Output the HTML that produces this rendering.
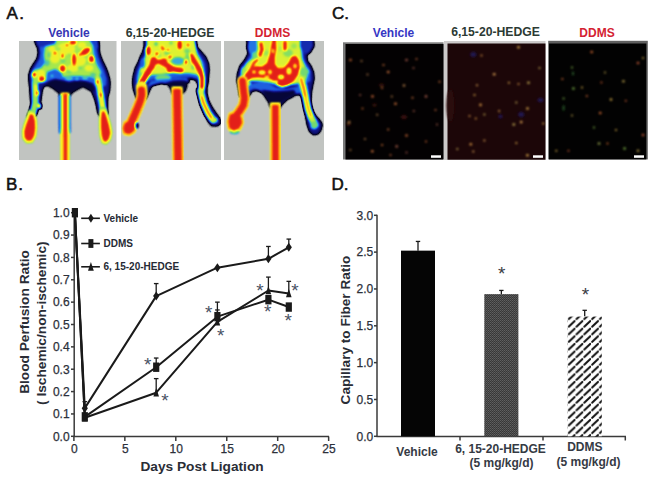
<!DOCTYPE html><html><head><meta charset="utf-8"><style>html,body{margin:0;padding:0;background:#fff;}svg{display:block;}text{font-family:"Liberation Sans", sans-serif;}</style></head><body>
<svg width="654" height="480" viewBox="0 0 654 480">
<rect width="654" height="480" fill="#fff"/>
<text x="6.4" y="19.2" font-size="17" fill="#111" stroke="#111" stroke-width="0.55" letter-spacing="1.4">A.</text>
<text x="332" y="19.4" font-size="17" fill="#111" stroke="#111" stroke-width="0.55" letter-spacing="0">C.</text>
<text x="5.9" y="190.3" font-size="17" fill="#111" stroke="#111" stroke-width="0.55" letter-spacing="0.9">B.</text>
<text x="331.5" y="190.3" font-size="17" fill="#111" stroke="#111" stroke-width="0.55" letter-spacing="0">D.</text>
<text x="69" y="36.5" font-size="12" font-weight="bold" fill="#3636b4" text-anchor="middle">Vehicle</text>
<text x="170" y="36.5" font-size="12.2" font-weight="bold" fill="#2c3a34" text-anchor="middle">6,15-20-HEDGE</text>
<text x="272.5" y="36.5" font-size="12" font-weight="bold" fill="#d42232" text-anchor="middle">DDMS</text>
<text x="393.5" y="36.5" font-size="12" font-weight="bold" fill="#3636c4" text-anchor="middle">Vehicle</text>
<text x="495.5" y="36" font-size="12.2" font-weight="bold" fill="#2c3a34" text-anchor="middle">6,15-20-HEDGE</text>
<text x="597" y="36.5" font-size="12" font-weight="bold" fill="#d42232" text-anchor="middle">DDMS</text>
<defs><filter id="jetA" x="0" y="0" width="1" height="1" color-interpolation-filters="sRGB"><feGaussianBlur stdDeviation="1.1"/><feComponentTransfer><feFuncR type="table" tableValues="0.76 0.02 0.03 0.05 0.08 0.10 0.12 0.15 0.22 0.32 0.45 0.62 0.78 0.90 0.98 0.99 0.99 0.97 0.93 0.89 0.86"/><feFuncG type="table" tableValues="0.77 0.02 0.03 0.06 0.12 0.25 0.38 0.52 0.68 0.78 0.85 0.90 0.93 0.95 0.93 0.78 0.60 0.40 0.20 0.12 0.08"/><feFuncB type="table" tableValues="0.76 0.12 0.30 0.45 0.62 0.78 0.88 0.90 0.85 0.65 0.45 0.32 0.24 0.18 0.14 0.10 0.07 0.07 0.09 0.10 0.10"/></feComponentTransfer></filter><filter id="jetL" x="-0.1" y="-0.1" width="1.2" height="1.2" color-interpolation-filters="sRGB"><feGaussianBlur stdDeviation="1.0"/><feComponentTransfer><feFuncR type="table" tableValues="0.76 0.02 0.03 0.05 0.08 0.10 0.12 0.15 0.22 0.32 0.45 0.62 0.78 0.90 0.98 0.99 0.99 0.97 0.93 0.89 0.86"/><feFuncG type="table" tableValues="0.77 0.02 0.03 0.06 0.12 0.25 0.38 0.52 0.68 0.78 0.85 0.90 0.93 0.95 0.93 0.78 0.60 0.40 0.20 0.12 0.08"/><feFuncB type="table" tableValues="0.76 0.12 0.30 0.45 0.62 0.78 0.88 0.90 0.85 0.65 0.45 0.32 0.24 0.18 0.14 0.10 0.07 0.07 0.09 0.10 0.10"/><feFuncA type="table" tableValues="0 0.6 1 1"/></feComponentTransfer></filter></defs>
<clipPath id="cpA0"><rect x="0" y="0" width="97.5" height="119"/></clipPath>
<g transform="translate(19,41)" clip-path="url(#cpA0)"><g filter="url(#jetA)"><rect x="-3" y="-3" width="103.5" height="125" fill="#000"/><path d="M16.2,-3.0 L16.2,0.9 L18.8,6.5 L19.5,11.5 L18.3,17.8 L15.0,22.8 L11.9,27.8 L10.0,34.0 L10.2,40.0 L11.0,47.0 L11.5,55.0 L12.2,63.4 L10.0,71.0 L8.0,76.0 L15.0,76.0 L17.5,72.0 L21.0,64.0 L22.0,56.0 L23.0,49.0 L25.0,44.5 L30.0,45.0 L35.0,48.0 L40.5,51.0 L40.5,55.0 L51.2,55.0 L51.2,52.0 L56.0,50.0 L60.0,46.5 L64.2,45.5 L68.0,46.5 L73.0,50.5 L76.0,58.0 L78.0,66.0 L79.0,72.0 L81.0,75.0 L88.5,74.0 L88.3,70.0 L88.2,62.0 L88.5,56.0 L90.2,50.0 L90.8,42.5 L90.2,37.5 L88.3,31.0 L85.8,25.0 L83.3,20.0 L80.8,13.8 L79.6,6.2 L78.9,0.0 L78.9,-3.0Z" fill="rgb(43,43,43)"/><path d="M19.0,-3.0 L20.5,6.0 L21.5,12.0 L20.5,18.0 L17.0,24.0 L13.5,29.0 L12.5,35.0 L13.0,42.0 L22.0,42.0 L30.0,41.0 L40.0,45.0 L50.0,46.0 L58.0,43.0 L64.0,42.0 L70.0,43.0 L78.0,46.0 L87.0,45.0 L87.5,38.0 L85.0,30.0 L82.0,23.0 L79.0,16.0 L77.5,8.0 L77.0,-3.0Z" fill="rgb(76,76,76)"/><path d="M37.0,-3.0 L30.0,3.0 L26.0,6.0 L25.0,14.0 L26.0,22.0 L22.0,27.0 L15.0,29.0 L12.5,34.0 L14.0,40.0 L20.0,42.0 L27.0,39.0 L28.0,31.0 L36.0,28.0 L42.0,31.0 L44.0,36.0 L52.0,35.0 L60.0,35.0 L68.0,35.0 L75.0,37.0 L80.0,36.0 L82.0,31.0 L78.0,24.0 L75.0,16.0 L74.0,8.0 L73.0,-3.0Z" fill="rgb(143,143,143)"/><ellipse cx="47" cy="8" rx="9" ry="6" fill="rgb(171,171,171)"/><ellipse cx="60" cy="20" rx="7" ry="5" fill="rgb(171,171,171)"/><ellipse cx="36" cy="16" rx="5" ry="6" fill="rgb(171,171,171)"/><ellipse cx="54" cy="27" rx="6" ry="3.5" fill="rgb(171,171,171)"/><ellipse cx="22" cy="33" rx="4" ry="4" fill="rgb(171,171,171)"/><ellipse cx="33" cy="8" rx="3" ry="3" fill="rgb(171,171,171)"/><ellipse cx="70" cy="27" rx="4" ry="3" fill="rgb(171,171,171)"/><ellipse cx="63" cy="4" rx="4" ry="3" fill="rgb(171,171,171)"/><ellipse cx="33" cy="33.5" rx="4" ry="3" fill="rgb(76,76,76)"/><ellipse cx="33" cy="35" rx="1.5" ry="1.2" fill="rgb(115,115,115)"/><ellipse cx="28" cy="22" rx="2.5" ry="3" fill="rgb(115,115,115)"/><ellipse cx="44" cy="20" rx="2.5" ry="2" fill="rgb(128,128,128)"/><ellipse cx="61" cy="27" rx="2.5" ry="1.5" fill="rgb(128,128,128)"/><ellipse cx="74" cy="34" rx="3" ry="2" fill="rgb(115,115,115)"/><ellipse cx="50" cy="31" rx="2.5" ry="1.8" fill="rgb(128,128,128)"/><ellipse cx="40" cy="8" rx="2" ry="2" fill="rgb(140,140,140)"/><ellipse cx="50" cy="14" rx="2" ry="2" fill="rgb(140,140,140)"/><ellipse cx="68" cy="22" rx="2" ry="2" fill="rgb(140,140,140)"/><ellipse cx="30" cy="14" rx="2" ry="3" fill="rgb(128,128,128)"/><ellipse cx="58" cy="10" rx="1.8" ry="1.8" fill="rgb(140,140,140)"/><path d="M16.0,-3.0 L38.0,-3.0 L36.0,3.0 L28.0,5.0 L22.0,6.0 L18.0,5.0Z" fill="rgb(56,56,56)"/><path d="M70.0,-3.0 L79.0,-3.0 L80.0,8.0 L76.0,6.0 L72.0,2.0Z" fill="rgb(64,64,64)"/><path d="M26.0,44.0 L30.0,40.0 L36.0,38.0 L44.0,39.5 L50.0,41.0 L58.0,39.5 L66.0,40.0 L74.0,42.5 L76.0,49.0 L73.0,51.0 L64.0,46.0 L56.0,50.0 L51.2,54.0 L40.5,53.0 L32.0,46.0Z" fill="rgb(20,20,20)"/><ellipse cx="50" cy="37.5" rx="4" ry="1.8" fill="rgb(115,115,115)"/><ellipse cx="66" cy="37" rx="3" ry="1.8" fill="rgb(115,115,115)"/><ellipse cx="58" cy="38" rx="2" ry="1.5" fill="rgb(115,115,115)"/><ellipse cx="54" cy="1.5" rx="3.5" ry="2.2" fill="rgb(242,242,242)"/><ellipse cx="66.5" cy="10.5" rx="5.5" ry="3.2" fill="rgb(242,242,242)" transform="rotate(-35 66.5 10.5)"/><ellipse cx="72.5" cy="18" rx="2.8" ry="3.5" fill="rgb(242,242,242)"/><ellipse cx="55" cy="18.5" rx="2.2" ry="6.5" fill="rgb(242,242,242)"/><ellipse cx="43.6" cy="27.5" rx="3" ry="3.6" fill="rgb(242,242,242)"/><ellipse cx="15.2" cy="33.5" rx="2.2" ry="2.5" fill="rgb(242,242,242)"/><ellipse cx="22.8" cy="38" rx="3" ry="2.8" fill="rgb(242,242,242)"/><ellipse cx="61" cy="13.5" rx="1.5" ry="1.5" fill="rgb(242,242,242)"/><ellipse cx="36" cy="12" rx="1.4" ry="1.8" fill="rgb(242,242,242)"/><ellipse cx="43.5" cy="15" rx="1.5" ry="2.5" fill="rgb(242,242,242)"/><ellipse cx="48" cy="4" rx="1.2" ry="1.5" fill="rgb(242,242,242)"/><path d="M16.0,42.0 L16.2,52.0 L16.3,62.0 L14.0,72.0" fill="none" stroke="rgb(140,140,140)" stroke-width="6" stroke-linecap="round" stroke-linejoin="round"/><path d="M16.8,45.0 L17.2,54.0" fill="none" stroke="rgb(184,184,184)" stroke-width="2.4" stroke-linecap="round" stroke-linejoin="round"/><ellipse cx="18.4" cy="52" rx="1.4" ry="2.5" fill="rgb(237,237,237)"/><ellipse cx="20.2" cy="65" rx="1.6" ry="2.2" fill="rgb(209,209,209)"/><path d="M79.0,38.0 L81.0,50.0 L83.0,62.0 L84.5,72.0" fill="none" stroke="rgb(153,153,153)" stroke-width="6" stroke-linecap="round" stroke-linejoin="round"/><path d="M80.5,44.0 L82.0,56.0 L83.5,66.0" fill="none" stroke="rgb(184,184,184)" stroke-width="2.4" stroke-linecap="round" stroke-linejoin="round"/><ellipse cx="78.5" cy="41" rx="1.6" ry="2.4" fill="rgb(235,235,235)"/><ellipse cx="81.8" cy="54" rx="1.6" ry="2.4" fill="rgb(235,235,235)"/></g><g filter="url(#jetL)"><path d="M10.0,69.0 L15.0,70.5 L17.6,78.0 L18.0,87.0 L17.0,95.5 L13.5,101.8 L7.5,102.3 L3.6,98.0 L3.2,90.0 L5.2,82.0 L8.0,75.0Z" fill="rgb(128,128,128)"/><path d="M10.5,70.5 L15.0,72.0 L17.0,78.5 L17.4,87.0 L16.4,95.3 L13.2,101.0 L7.8,101.4 L4.4,97.5 L4.0,90.0 L6.0,82.5 L8.6,76.0Z" fill="rgb(173,173,173)"/><path d="M11.0,73.0 L14.2,74.0 L15.8,79.5 L16.2,87.0 L15.2,94.5 L12.5,99.5 L8.2,99.8 L5.6,96.6 L5.3,90.0 L7.0,84.0 L9.3,78.0Z" fill="rgb(242,242,242)"/><path d="M81.5,66.5 L86.5,67.0 L89.0,74.0 L91.8,83.0 L93.2,91.5 L91.7,99.0 L87.5,103.5 L83.0,102.3 L80.8,95.5 L80.2,86.0 L80.3,76.0Z" fill="rgb(128,128,128)"/><path d="M82.0,68.0 L86.0,68.5 L88.5,75.0 L91.0,83.5 L92.5,91.8 L91.0,98.6 L87.3,102.6 L83.5,101.4 L81.5,95.0 L80.9,86.0 L81.0,77.0Z" fill="rgb(173,173,173)"/><path d="M82.8,70.5 L85.5,70.5 L87.6,76.5 L90.0,84.5 L91.3,92.0 L89.8,97.8 L87.0,101.0 L84.2,99.8 L82.7,94.3 L82.0,86.0 L82.0,78.0Z" fill="rgb(242,242,242)"/><path d="M45.6,54.0 L45.6,84.0 L45.8,92.0" fill="none" stroke="rgb(76,76,76)" stroke-width="11.4" stroke-linecap="butt" stroke-linejoin="round"/><path d="M46.0,88.0 L46.0,125.0" fill="none" stroke="rgb(128,128,128)" stroke-width="8.6" stroke-linecap="butt" stroke-linejoin="round"/><path d="M46.0,52.0 L46.0,125.0" fill="none" stroke="rgb(184,184,184)" stroke-width="7.6" stroke-linecap="butt" stroke-linejoin="round"/><path d="M46.3,53.0 L46.4,125.0" fill="none" stroke="rgb(240,240,240)" stroke-width="3.4" stroke-linecap="butt" stroke-linejoin="round"/></g></g>
<clipPath id="cpA1"><rect x="0" y="0" width="100" height="119"/></clipPath>
<g transform="translate(121,41)" clip-path="url(#cpA1)"><g filter="url(#jetA)"><rect x="-3" y="-3" width="106" height="125" fill="#000"/><path d="M23.5,-3.0 L23.5,5.0 L21.9,11.2 L20.0,15.0 L17.5,21.2 L14.4,27.5 L12.5,35.0 L11.9,41.2 L12.5,47.5 L14.4,53.8 L16.0,58.0 L22.0,60.0 L24.5,58.0 L26.2,55.0 L28.0,50.0 L30.5,45.0 L35.0,42.0 L41.2,41.0 L46.2,42.5 L50.0,46.0 L51.5,52.0 L60.5,52.0 L64.0,50.5 L65.5,46.0 L66.5,38.5 L70.0,37.5 L75.0,39.0 L77.5,44.0 L78.0,50.0 L79.0,60.0 L81.0,67.0 L84.0,74.0 L87.5,80.5 L91.0,84.5 L96.0,85.0 L99.5,82.0 L98.5,77.5 L94.5,72.0 L90.5,66.0 L87.5,60.0 L85.6,52.5 L85.6,46.2 L86.6,42.5 L87.2,36.2 L87.8,28.8 L87.2,22.5 L84.6,16.2 L80.3,11.2 L75.9,6.2 L75.0,0.0 L75.0,-3.0Z" fill="rgb(43,43,43)"/><path d="M25.5,-3.0 L25.5,8.0 L23.5,15.0 L19.5,22.0 L16.5,30.0 L15.0,38.0 L15.5,46.0 L20.0,44.0 L27.0,40.0 L33.0,38.0 L42.0,37.0 L52.0,37.0 L62.0,36.0 L70.0,36.0 L78.0,38.0 L83.5,40.0 L84.5,30.0 L83.5,22.0 L79.5,15.0 L75.5,9.0 L73.5,-3.0Z" fill="rgb(76,76,76)"/><path d="M26.0,-3.0 L26.0,10.0 L24.0,17.0 L21.0,24.0 L18.0,32.0 L17.0,40.0 L22.0,38.0 L30.0,34.0 L40.0,33.0 L50.0,32.0 L60.0,32.0 L68.0,32.0 L74.0,33.0 L82.0,36.0 L82.0,28.0 L80.0,20.0 L76.0,13.0 L73.0,-3.0Z" fill="rgb(163,163,163)"/><ellipse cx="57" cy="20" rx="7" ry="4" fill="rgb(102,102,102)"/><ellipse cx="42" cy="37" rx="8" ry="3.5" fill="rgb(128,128,128)"/><ellipse cx="37" cy="14" rx="2.5" ry="2" fill="rgb(115,115,115)"/><ellipse cx="46" cy="12" rx="3" ry="2" fill="rgb(128,128,128)"/><ellipse cx="66" cy="10" rx="3" ry="2.5" fill="rgb(128,128,128)"/><ellipse cx="30" cy="30" rx="2.5" ry="2.5" fill="rgb(128,128,128)"/><ellipse cx="20" cy="36" rx="2.5" ry="5" fill="rgb(128,128,128)"/><ellipse cx="72" cy="26" rx="2" ry="3" fill="rgb(128,128,128)"/><ellipse cx="50" cy="2" rx="2" ry="2" fill="rgb(128,128,128)"/><ellipse cx="35" cy="3" rx="2" ry="2" fill="rgb(115,115,115)"/><path d="M26.0,46.0 L30.0,40.0 L38.0,38.5 L48.0,38.0 L58.0,37.0 L66.0,37.0 L68.0,41.0 L58.0,43.0 L48.0,43.0 L40.0,42.0 L32.0,44.0Z" fill="rgb(76,76,76)"/><path d="M45.0,42.0 L52.0,40.0 L60.0,39.5 L66.0,40.0 L66.0,46.0 L64.0,50.0 L61.0,53.0 L51.0,53.0 L49.0,47.0Z" fill="rgb(20,20,20)"/><ellipse cx="27.3" cy="9.8" rx="2.6" ry="4.5" fill="rgb(245,245,245)"/><ellipse cx="58.7" cy="4" rx="2.4" ry="4.5" fill="rgb(245,245,245)"/><ellipse cx="41" cy="6" rx="1.5" ry="1.5" fill="rgb(230,230,230)"/><ellipse cx="67" cy="4" rx="1.5" ry="2" fill="rgb(230,230,230)"/><path d="M20.5,42.0 L24.0,36.0 L27.5,30.6 L31.0,25.0 L32.5,19.0" fill="none" stroke="rgb(245,245,245)" stroke-width="6" stroke-linecap="round" stroke-linejoin="round"/><path d="M32.0,23.0 L37.5,20.5" fill="none" stroke="rgb(242,242,242)" stroke-width="3.8" stroke-linecap="round" stroke-linejoin="round"/><path d="M40.0,21.0 L44.0,23.0 L50.5,27.5 L56.0,29.0 L60.0,29.5" fill="none" stroke="rgb(242,242,242)" stroke-width="5.4" stroke-linecap="round" stroke-linejoin="round"/><path d="M70.3,15.3 L75.0,23.0 L79.5,30.6 L81.0,36.7 L81.0,44.3 L79.8,52.0" fill="none" stroke="rgb(242,242,242)" stroke-width="5.2" stroke-linecap="round" stroke-linejoin="round"/><ellipse cx="49" cy="16" rx="2" ry="2" fill="rgb(230,230,230)"/><ellipse cx="33" cy="20" rx="3.2" ry="3.8" fill="rgb(242,242,242)"/><ellipse cx="43" cy="20" rx="3.2" ry="2.8" fill="rgb(242,242,242)"/><ellipse cx="48.8" cy="28" rx="3.2" ry="3.8" fill="rgb(242,242,242)"/><ellipse cx="58.8" cy="29.3" rx="3.2" ry="2" fill="rgb(242,242,242)"/><ellipse cx="42" cy="8" rx="2" ry="1.5" fill="rgb(235,235,235)"/><ellipse cx="66.5" cy="18" rx="3" ry="6" fill="rgb(128,128,128)"/><ellipse cx="21.5" cy="22" rx="2.5" ry="5" fill="rgb(76,76,76)"/><ellipse cx="36" cy="13" rx="2" ry="2" fill="rgb(235,235,235)"/><ellipse cx="65" cy="21" rx="2" ry="2.5" fill="rgb(235,235,235)"/><ellipse cx="47" cy="9" rx="1.6" ry="1.6" fill="rgb(230,230,230)"/><path d="M79.5,50.0 L82.5,62.0 L87.0,72.0 L92.0,79.0" fill="none" stroke="rgb(163,163,163)" stroke-width="6" stroke-linecap="round" stroke-linejoin="round"/><path d="M80.5,56.0 L83.0,63.0 L86.5,70.0 L90.5,77.0" fill="none" stroke="rgb(217,217,217)" stroke-width="2.6" stroke-linecap="round" stroke-linejoin="round"/><ellipse cx="93.5" cy="79" rx="3" ry="2.5" fill="rgb(158,158,158)"/><path d="M86.0,80.0 L92.0,84.0 L97.0,84.5 L99.5,82.0 L96.0,85.5 L90.0,85.5Z" fill="rgb(13,13,13)"/></g><g filter="url(#jetL)"><path d="M20.5,46.0 L21.0,54.0 L19.5,60.0 L15.5,70.0 L11.5,79.0 L8.0,87.0" fill="none" stroke="rgb(178,178,178)" stroke-width="10" stroke-linecap="round" stroke-linejoin="round"/><path d="M3.0,80.5 L11.5,77.5 L16.5,84.0 L14.0,91.5 L8.5,94.8 L2.5,93.5 L1.5,87.0Z" fill="rgb(178,178,178)"/><path d="M20.5,49.0 L20.8,54.0 L19.3,60.0 L15.3,70.0 L11.3,79.0 L8.0,87.0" fill="none" stroke="rgb(242,242,242)" stroke-width="7" stroke-linecap="round" stroke-linejoin="round"/><path d="M4.0,82.0 L11.0,79.0 L15.0,84.0 L13.0,90.0 L8.5,93.0 L3.5,92.0 L2.5,87.0Z" fill="rgb(242,242,242)"/><ellipse cx="15.8" cy="84.5" rx="1.6" ry="2.8" fill="rgb(20,20,20)"/><path d="M56.0,46.0 L57.2,125.0" fill="none" stroke="rgb(178,178,178)" stroke-width="10.2" stroke-linecap="butt" stroke-linejoin="round"/><path d="M56.0,48.0 L57.2,125.0" fill="none" stroke="rgb(242,242,242)" stroke-width="7.4" stroke-linecap="butt" stroke-linejoin="round"/></g></g>
<clipPath id="cpA2"><rect x="0" y="0" width="100" height="119"/></clipPath>
<g transform="translate(224,41)" clip-path="url(#cpA2)"><g filter="url(#jetA)"><rect x="-3" y="-3" width="106" height="125" fill="#000"/><path d="M23.1,-3.0 L23.1,0.0 L25.0,6.2 L24.4,12.5 L21.2,18.8 L16.2,25.0 L13.8,32.5 L13.1,40.0 L14.4,46.2 L15.2,52.0 L16.0,56.0 L24.0,56.0 L26.0,53.0 L28.0,50.0 L33.0,49.0 L38.0,51.5 L41.0,54.5 L43.5,58.5 L45.5,64.0 L46.5,66.0 L56.5,66.0 L58.0,63.0 L63.0,58.5 L68.0,56.0 L72.0,53.5 L76.0,53.5 L79.0,57.0 L80.0,62.0 L81.0,70.0 L82.0,76.0 L83.5,84.0 L85.5,90.0 L89.3,93.5 L93.5,93.0 L96.5,89.5 L98.0,83.5 L96.0,80.0 L91.5,75.0 L88.5,71.0 L87.0,65.0 L86.3,60.0 L86.8,56.0 L87.3,50.0 L88.5,43.8 L89.8,37.5 L89.2,31.2 L86.6,25.0 L83.0,20.0 L82.5,14.0 L86.0,11.0 L89.5,5.0 L88.6,0.0 L88.6,-3.0Z" fill="rgb(43,43,43)"/><path d="M25.0,-3.0 L27.0,6.0 L27.0,13.0 L23.0,20.0 L18.0,27.0 L16.0,35.0 L17.0,44.0 L22.0,42.0 L30.0,38.0 L40.0,40.0 L50.0,43.0 L60.0,44.0 L70.0,44.0 L80.0,44.0 L86.5,40.0 L86.5,30.0 L83.0,24.0 L80.0,18.0 L79.0,12.0 L80.0,6.0 L80.0,-3.0Z" fill="rgb(76,76,76)"/><path d="M33.0,-3.0 L33.0,8.0 L30.0,16.0 L23.0,22.0 L18.0,30.0 L17.0,38.0 L24.0,40.0 L34.0,40.0 L44.0,41.0 L54.0,44.0 L64.0,44.0 L74.0,42.0 L82.0,38.0 L85.0,30.0 L81.0,25.0 L78.0,18.0 L77.0,8.0 L77.0,-3.0Z" fill="rgb(161,161,161)"/><ellipse cx="28.5" cy="6" rx="5" ry="8" fill="rgb(84,84,84)"/><ellipse cx="31" cy="15" rx="3" ry="4" fill="rgb(128,128,128)"/><ellipse cx="64" cy="12" rx="5" ry="4" fill="rgb(133,133,133)"/><ellipse cx="80" cy="31" rx="4.5" ry="5" fill="rgb(128,128,128)"/><ellipse cx="20" cy="31" rx="3" ry="5" fill="rgb(140,140,140)"/><ellipse cx="42" cy="12" rx="3" ry="3" fill="rgb(140,140,140)"/><ellipse cx="70" cy="5" rx="3" ry="3" fill="rgb(140,140,140)"/><ellipse cx="56" cy="8" rx="2" ry="3" fill="rgb(148,148,148)"/><path d="M76.0,-3.0 L89.0,-3.0 L89.5,5.0 L86.0,11.0 L82.5,13.0 L79.0,12.0 L76.0,6.0Z" fill="rgb(56,56,56)"/><path d="M19.0,40.0 L21.0,33.0 L26.0,27.5 L32.0,25.0 L38.0,25.5 L43.0,22.0 L45.5,14.0 L47.0,5.0 L48.5,-2.0 L52.0,-2.0 L52.5,8.0 L51.0,16.0 L51.0,23.0 L54.0,27.0 L60.0,26.5 L64.5,21.5 L67.5,15.5 L72.0,14.5 L75.0,19.0 L76.0,27.0 L74.0,34.0 L70.0,40.0 L64.0,44.5 L58.0,46.0 L53.0,44.0 L50.0,40.0 L46.0,38.0 L40.0,37.0 L34.0,36.5 L28.0,37.0 L23.5,40.0 L21.5,46.0Z" fill="rgb(242,242,242)"/><ellipse cx="38" cy="31.5" rx="3.5" ry="2.2" fill="rgb(168,168,168)"/><ellipse cx="57" cy="36" rx="3" ry="2.2" fill="rgb(158,158,158)"/><ellipse cx="65" cy="30" rx="2.5" ry="3.5" fill="rgb(168,168,168)"/><ellipse cx="30" cy="31" rx="2" ry="1.8" fill="rgb(178,178,178)"/><ellipse cx="71" cy="25" rx="1.8" ry="2.5" fill="rgb(178,178,178)"/><ellipse cx="46" cy="31" rx="2" ry="2.5" fill="rgb(178,178,178)"/><ellipse cx="57" cy="26" rx="2" ry="1.5" fill="rgb(184,184,184)"/><ellipse cx="49" cy="10" rx="1.2" ry="2.5" fill="rgb(178,178,178)"/><ellipse cx="52" cy="41" rx="2" ry="1.5" fill="rgb(153,153,153)"/><ellipse cx="43" cy="36" rx="2.5" ry="1.2" fill="rgb(173,173,173)"/><path d="M37.0,3.0 L38.0,9.0 L36.0,14.0" fill="none" stroke="rgb(240,240,240)" stroke-width="3.8" stroke-linecap="round" stroke-linejoin="round"/><path d="M61.0,1.5 L61.0,8.0" fill="none" stroke="rgb(240,240,240)" stroke-width="3.8" stroke-linecap="round" stroke-linejoin="round"/><path d="M27.0,28.0 L30.0,22.0 L33.0,19.0" fill="none" stroke="rgb(237,237,237)" stroke-width="3" stroke-linecap="round" stroke-linejoin="round"/><ellipse cx="24" cy="43" rx="3" ry="2.5" fill="rgb(153,153,153)"/><ellipse cx="79" cy="39" rx="3" ry="3" fill="rgb(140,140,140)"/><path d="M22.0,46.0 L28.0,42.5 L36.0,40.5 L44.0,41.5 L52.0,46.5 L62.0,48.0 L72.0,46.0 L80.0,42.0 L84.0,44.0 L82.0,50.0 L72.0,53.0 L60.0,57.0 L54.0,62.0 L50.0,66.0 L44.0,60.0 L38.0,50.0 L30.0,47.5 L25.0,50.0Z" fill="rgb(76,76,76)"/><path d="M38.0,49.0 L50.0,50.5 L62.0,50.0 L70.0,49.0 L72.0,53.0 L63.0,57.5 L57.0,62.0 L56.5,67.0 L46.5,67.0 L44.0,60.0Z" fill="rgb(20,20,20)"/><path d="M77.0,38.0 L80.0,48.0 L82.0,58.0 L84.0,68.0 L87.0,76.0 L91.0,84.0" fill="none" stroke="rgb(153,153,153)" stroke-width="6.5" stroke-linecap="round" stroke-linejoin="round"/><path d="M78.0,42.0 L80.5,50.0 L82.5,60.0 L84.5,68.0 L87.0,75.0" fill="none" stroke="rgb(199,199,199)" stroke-width="3" stroke-linecap="round" stroke-linejoin="round"/><path d="M77.0,38.0 L79.5,46.0 L81.0,54.0" fill="none" stroke="rgb(217,217,217)" stroke-width="2.8" stroke-linecap="round" stroke-linejoin="round"/><ellipse cx="90" cy="84" rx="3.5" ry="4" fill="rgb(128,128,128)"/></g><g filter="url(#jetL)"><path d="M18.5,40.0 L19.5,50.0 L20.5,57.0 L19.5,64.0 L15.0,71.0 L10.0,77.0" fill="none" stroke="rgb(178,178,178)" stroke-width="9.5" stroke-linecap="round" stroke-linejoin="round"/><ellipse cx="10.5" cy="91" rx="4.5" ry="1.8" fill="rgb(102,102,102)"/><path d="M5.0,72.0 L12.0,70.0 L18.5,75.0 L19.5,82.0 L16.5,89.0 L10.0,91.5 L4.5,89.0 L3.0,81.0Z" fill="rgb(178,178,178)"/><path d="M18.5,40.0 L19.5,50.0 L20.5,57.0 L19.5,64.0 L15.0,71.0 L10.0,77.0" fill="none" stroke="rgb(242,242,242)" stroke-width="6.6" stroke-linecap="round" stroke-linejoin="round"/><path d="M6.0,73.5 L12.0,72.0 L17.0,76.0 L18.0,82.0 L15.0,87.5 L9.5,89.5 L5.5,87.0 L4.5,80.5Z" fill="rgb(242,242,242)"/><path d="M51.4,62.0 L51.6,125.0" fill="none" stroke="rgb(178,178,178)" stroke-width="10" stroke-linecap="butt" stroke-linejoin="round"/><path d="M51.3,64.0 L51.5,125.0" fill="none" stroke="rgb(242,242,242)" stroke-width="6.4" stroke-linecap="butt" stroke-linejoin="round"/></g></g>
<defs><filter id="dotblur" x="-10%" y="-10%" width="120%" height="120%"><feGaussianBlur stdDeviation="0.9"/></filter></defs>
<rect x="343" y="42.3" width="100.5" height="117.2" fill="#7a7a7a"/>
<g transform="translate(345.5,44)"><rect width="98" height="115.5" fill="#030102"/><g filter="url(#dotblur)"><ellipse cx="58.5" cy="73" rx="3" ry="2" fill="#3a1410"/><ellipse cx="36" cy="41" rx="2.5" ry="1.5" fill="#3a1410"/><ellipse cx="29" cy="61" rx="2" ry="1.5" fill="#3a1410"/><ellipse cx="3" cy="80" rx="2" ry="2" fill="#3a1410"/><circle cx="5" cy="16" r="1.3" fill="#b05a30"/><circle cx="16" cy="17" r="1.0" fill="#a07040"/><circle cx="38" cy="21" r="1.0" fill="#c06a38"/><circle cx="61" cy="16" r="1.3" fill="#905040"/><circle cx="71" cy="15" r="1.0" fill="#b05a30"/><circle cx="22" cy="30.5" r="1.0" fill="#a07040"/><circle cx="42.7" cy="28" r="1.3" fill="#c06a38"/><circle cx="68" cy="24" r="1.0" fill="#905040"/><circle cx="36.6" cy="44" r="1.0" fill="#b05a30"/><circle cx="58.5" cy="41.5" r="1.3" fill="#a07040"/><circle cx="94" cy="37.8" r="1.0" fill="#c06a38"/><circle cx="14.6" cy="51" r="1.0" fill="#905040"/><circle cx="27" cy="52.4" r="1.3" fill="#b05a30"/><circle cx="46.3" cy="52.4" r="1.0" fill="#a07040"/><circle cx="67" cy="53.7" r="1.0" fill="#c06a38"/><circle cx="80.5" cy="52.4" r="1.3" fill="#905040"/><circle cx="17" cy="64.6" r="1.0" fill="#b05a30"/><circle cx="31.7" cy="70.7" r="1.0" fill="#a07040"/><circle cx="50" cy="59.8" r="1.3" fill="#c06a38"/><circle cx="68.3" cy="67" r="1.0" fill="#905040"/><circle cx="90" cy="65.9" r="1.0" fill="#b05a30"/><circle cx="3.7" cy="78" r="1.3" fill="#a07040"/><circle cx="42.7" cy="85.4" r="1.0" fill="#c06a38"/><circle cx="91.5" cy="80.5" r="1.0" fill="#905040"/><circle cx="61" cy="91.5" r="1.3" fill="#b05a30"/><circle cx="19.5" cy="95" r="1.0" fill="#a07040"/><circle cx="36.6" cy="101" r="1.0" fill="#c06a38"/><circle cx="51.2" cy="102.4" r="1.3" fill="#905040"/><circle cx="80.5" cy="97.6" r="1.0" fill="#b05a30"/><circle cx="4.9" cy="106" r="1.0" fill="#a07040"/><circle cx="26.8" cy="107.3" r="1.3" fill="#c06a38"/><circle cx="61" cy="108.5" r="1.0" fill="#905040"/><circle cx="45" cy="111" r="1.0" fill="#b05a30"/></g></g>
<rect x="444" y="41" width="101.5" height="119" fill="#cccaca"/>
<g transform="translate(447.5,43.5)"><rect width="98" height="116.2" fill="#1c0608"/><g filter="url(#dotblur)"><ellipse cx="3" cy="62" rx="4" ry="16" fill="#2a0909"/><ellipse cx="25.8" cy="11" rx="3" ry="2.5" fill="#201850"/><ellipse cx="73.7" cy="71" rx="3" ry="2.5" fill="#201850"/><ellipse cx="93" cy="56.5" rx="3" ry="2" fill="#201850"/><ellipse cx="53" cy="73" rx="2" ry="2" fill="#201850"/><circle cx="71" cy="3.7" r="1.3" fill="#d0a048"/><circle cx="34" cy="12" r="1.0" fill="#c88a40"/><circle cx="92" cy="24.6" r="1.0" fill="#b8a050"/><circle cx="46.7" cy="30.7" r="1.3" fill="#d09850"/><circle cx="61.4" cy="39.3" r="1.0" fill="#d0a048"/><circle cx="71" cy="40.5" r="1.0" fill="#c88a40"/><circle cx="81" cy="39.3" r="1.3" fill="#b8a050"/><circle cx="29.5" cy="41.8" r="1.0" fill="#d09850"/><circle cx="27" cy="51.6" r="1.0" fill="#d0a048"/><circle cx="33" cy="61.4" r="1.3" fill="#c88a40"/><circle cx="68.8" cy="59" r="1.0" fill="#b8a050"/><circle cx="51.6" cy="67.6" r="1.0" fill="#d09850"/><circle cx="80" cy="65" r="1.3" fill="#d0a048"/><circle cx="22" cy="72.5" r="1.0" fill="#c88a40"/><circle cx="36.9" cy="71" r="1.0" fill="#b8a050"/><circle cx="73.7" cy="78.6" r="1.3" fill="#d09850"/><circle cx="95.8" cy="79.9" r="1.0" fill="#d0a048"/><circle cx="28.3" cy="75" r="1.0" fill="#c88a40"/><circle cx="66.3" cy="81" r="1.3" fill="#b8a050"/><circle cx="36.9" cy="97" r="1.0" fill="#d09850"/><circle cx="68.8" cy="99.5" r="1.0" fill="#d0a048"/><circle cx="23.3" cy="100.7" r="1.3" fill="#c88a40"/><circle cx="9.8" cy="105.6" r="1.0" fill="#b8a050"/><circle cx="25.8" cy="108" r="1.0" fill="#d09850"/><circle cx="79.9" cy="111.8" r="1.3" fill="#d0a048"/></g></g>
<rect x="548.2" y="40.8" width="99.6" height="118.6" fill="#606060"/>
<g transform="translate(549,43.5)"><rect width="97.3" height="115.9" fill="#020202"/><g filter="url(#dotblur)"><ellipse cx="14.6" cy="64.6" rx="1" ry="3" fill="#2a5a2a"/><ellipse cx="50" cy="100" rx="1.5" ry="1.5" fill="#2a5a2a"/><ellipse cx="24" cy="30" rx="1" ry="2" fill="#2a5a2a"/><circle cx="42.7" cy="8.5" r="1.3" fill="#c06030"/><circle cx="23" cy="24" r="1.0" fill="#70a040"/><circle cx="94" cy="14.6" r="1.0" fill="#c09a40"/><circle cx="89" cy="19.5" r="1.3" fill="#b05030"/><circle cx="56" cy="29" r="1.0" fill="#a08a40"/><circle cx="13.4" cy="35.4" r="1.0" fill="#c06030"/><circle cx="24.4" cy="45" r="1.3" fill="#70a040"/><circle cx="33" cy="44" r="1.0" fill="#c09a40"/><circle cx="52.4" cy="39" r="1.0" fill="#b05030"/><circle cx="74.4" cy="37.8" r="1.3" fill="#a08a40"/><circle cx="37.8" cy="52.4" r="1.0" fill="#c06030"/><circle cx="14.6" cy="55" r="1.0" fill="#70a040"/><circle cx="62" cy="56" r="1.3" fill="#c09a40"/><circle cx="76.8" cy="57.3" r="1.0" fill="#b05030"/><circle cx="23" cy="72" r="1.0" fill="#a08a40"/><circle cx="51.2" cy="69.5" r="1.3" fill="#c06030"/><circle cx="45" cy="84" r="1.0" fill="#70a040"/><circle cx="67" cy="86.6" r="1.0" fill="#c09a40"/><circle cx="94" cy="91.5" r="1.3" fill="#b05030"/><circle cx="50" cy="100" r="1.0" fill="#a08a40"/><circle cx="58.5" cy="100" r="1.0" fill="#c06030"/><circle cx="75.6" cy="105" r="1.3" fill="#70a040"/><circle cx="7.3" cy="107.3" r="1.0" fill="#c09a40"/><circle cx="19.5" cy="107.3" r="1.0" fill="#b05030"/><circle cx="89" cy="107.3" r="1.3" fill="#a08a40"/></g></g>
<rect x="431" y="155.3" width="10" height="2.5" fill="#fff"/>
<rect x="533" y="155.3" width="10" height="2.5" fill="#fff"/>
<rect x="634" y="155.3" width="10" height="2.5" fill="#fff"/>
<line x1="74.2" y1="212.20000000000002" x2="74.2" y2="437" stroke="#3a3a3a" stroke-width="1.5"/>
<line x1="73.5" y1="436.5" x2="329" y2="436.5" stroke="#3a3a3a" stroke-width="1.5"/>
<line x1="71" y1="436.30" x2="74.2" y2="436.30" stroke="#3a3a3a" stroke-width="1.5"/>
<text x="69.6" y="440.60" font-size="12" fill="#2c303a" stroke="#2c303a" stroke-width="0.25" text-anchor="end">0.0</text>
<line x1="71" y1="413.94" x2="74.2" y2="413.94" stroke="#3a3a3a" stroke-width="1.5"/>
<text x="69.6" y="418.24" font-size="12" fill="#2c303a" stroke="#2c303a" stroke-width="0.25" text-anchor="end">0.1</text>
<line x1="71" y1="391.58" x2="74.2" y2="391.58" stroke="#3a3a3a" stroke-width="1.5"/>
<text x="69.6" y="395.88" font-size="12" fill="#2c303a" stroke="#2c303a" stroke-width="0.25" text-anchor="end">0.2</text>
<line x1="71" y1="369.22" x2="74.2" y2="369.22" stroke="#3a3a3a" stroke-width="1.5"/>
<text x="69.6" y="373.52" font-size="12" fill="#2c303a" stroke="#2c303a" stroke-width="0.25" text-anchor="end">0.3</text>
<line x1="71" y1="346.86" x2="74.2" y2="346.86" stroke="#3a3a3a" stroke-width="1.5"/>
<text x="69.6" y="351.16" font-size="12" fill="#2c303a" stroke="#2c303a" stroke-width="0.25" text-anchor="end">0.4</text>
<line x1="71" y1="324.50" x2="74.2" y2="324.50" stroke="#3a3a3a" stroke-width="1.5"/>
<text x="69.6" y="328.80" font-size="12" fill="#2c303a" stroke="#2c303a" stroke-width="0.25" text-anchor="end">0.5</text>
<line x1="71" y1="302.14" x2="74.2" y2="302.14" stroke="#3a3a3a" stroke-width="1.5"/>
<text x="69.6" y="306.44" font-size="12" fill="#2c303a" stroke="#2c303a" stroke-width="0.25" text-anchor="end">0.6</text>
<line x1="71" y1="279.78" x2="74.2" y2="279.78" stroke="#3a3a3a" stroke-width="1.5"/>
<text x="69.6" y="284.08" font-size="12" fill="#2c303a" stroke="#2c303a" stroke-width="0.25" text-anchor="end">0.7</text>
<line x1="71" y1="257.42" x2="74.2" y2="257.42" stroke="#3a3a3a" stroke-width="1.5"/>
<text x="69.6" y="261.72" font-size="12" fill="#2c303a" stroke="#2c303a" stroke-width="0.25" text-anchor="end">0.8</text>
<line x1="71" y1="235.06" x2="74.2" y2="235.06" stroke="#3a3a3a" stroke-width="1.5"/>
<text x="69.6" y="239.36" font-size="12" fill="#2c303a" stroke="#2c303a" stroke-width="0.25" text-anchor="end">0.9</text>
<line x1="71" y1="212.70" x2="74.2" y2="212.70" stroke="#3a3a3a" stroke-width="1.5"/>
<text x="69.6" y="217.00" font-size="12" fill="#2c303a" stroke="#2c303a" stroke-width="0.25" text-anchor="end">1.0</text>
<line x1="73.90" y1="436.5" x2="73.90" y2="441" stroke="#3a3a3a" stroke-width="1.5"/>
<text x="74.30" y="452.7" font-size="12" fill="#2c303a" stroke="#2c303a" stroke-width="0.25" text-anchor="middle">0</text>
<line x1="124.85" y1="436.5" x2="124.85" y2="441" stroke="#3a3a3a" stroke-width="1.5"/>
<text x="125.25" y="452.7" font-size="12" fill="#2c303a" stroke="#2c303a" stroke-width="0.25" text-anchor="middle">5</text>
<line x1="175.80" y1="436.5" x2="175.80" y2="441" stroke="#3a3a3a" stroke-width="1.5"/>
<text x="176.20" y="452.7" font-size="12" fill="#2c303a" stroke="#2c303a" stroke-width="0.25" text-anchor="middle">10</text>
<line x1="226.75" y1="436.5" x2="226.75" y2="441" stroke="#3a3a3a" stroke-width="1.5"/>
<text x="227.15" y="452.7" font-size="12" fill="#2c303a" stroke="#2c303a" stroke-width="0.25" text-anchor="middle">15</text>
<line x1="277.70" y1="436.5" x2="277.70" y2="441" stroke="#3a3a3a" stroke-width="1.5"/>
<text x="278.10" y="452.7" font-size="12" fill="#2c303a" stroke="#2c303a" stroke-width="0.25" text-anchor="middle">20</text>
<line x1="328.65" y1="436.5" x2="328.65" y2="441" stroke="#3a3a3a" stroke-width="1.5"/>
<text x="329.05" y="452.7" font-size="12" fill="#2c303a" stroke="#2c303a" stroke-width="0.25" text-anchor="middle">25</text>
<text x="202" y="470.6" font-size="13.7" font-weight="bold" fill="#2a2d36" text-anchor="middle">Days Post Ligation</text>
<text transform="translate(29,322) rotate(-90)" font-size="13.7" font-weight="bold" fill="#2a2d36" text-anchor="middle">Blood Perfusion Ratio</text>
<text transform="translate(45.6,323.2) rotate(-90)" font-size="13.7" font-weight="bold" fill="#2a2d36" text-anchor="middle" xml:space="preserve">( Ischemic/non-ischemic)</text>
<polyline points="74.90,212.70 84.80,408.13 156.20,296.10 217.40,267.71 268.40,258.76 288.80,247.36" fill="none" stroke="#1a1a1a" stroke-width="2.0" stroke-linejoin="round"/>
<polyline points="74.90,212.70 84.80,416.85 156.20,367.21 217.40,316.67 268.40,299.68 288.80,307.06" fill="none" stroke="#1a1a1a" stroke-width="2.0" stroke-linejoin="round"/>
<polyline points="74.90,212.70 84.80,417.74 156.20,392.70 217.40,321.82 268.40,290.51 288.80,293.42" fill="none" stroke="#1a1a1a" stroke-width="2.0" stroke-linejoin="round"/>
<line x1="84.80" y1="408.13" x2="84.80" y2="401.64" stroke="#1a1a1a" stroke-width="1.3"/>
<line x1="82.50" y1="401.64" x2="87.10" y2="401.64" stroke="#1a1a1a" stroke-width="1.3"/>
<line x1="156.20" y1="296.10" x2="156.20" y2="283.58" stroke="#1a1a1a" stroke-width="1.3"/>
<line x1="153.90" y1="283.58" x2="158.50" y2="283.58" stroke="#1a1a1a" stroke-width="1.3"/>
<line x1="268.40" y1="258.76" x2="268.40" y2="246.46" stroke="#1a1a1a" stroke-width="1.3"/>
<line x1="266.10" y1="246.46" x2="270.70" y2="246.46" stroke="#1a1a1a" stroke-width="1.3"/>
<line x1="288.80" y1="247.36" x2="288.80" y2="239.08" stroke="#1a1a1a" stroke-width="1.3"/>
<line x1="286.50" y1="239.08" x2="291.10" y2="239.08" stroke="#1a1a1a" stroke-width="1.3"/>
<line x1="156.20" y1="367.21" x2="156.20" y2="358.04" stroke="#1a1a1a" stroke-width="1.3"/>
<line x1="153.90" y1="358.04" x2="158.50" y2="358.04" stroke="#1a1a1a" stroke-width="1.3"/>
<line x1="217.40" y1="316.67" x2="217.40" y2="302.14" stroke="#1a1a1a" stroke-width="1.3"/>
<line x1="215.10" y1="302.14" x2="219.70" y2="302.14" stroke="#1a1a1a" stroke-width="1.3"/>
<line x1="156.20" y1="392.70" x2="156.20" y2="378.61" stroke="#1a1a1a" stroke-width="1.3"/>
<line x1="153.90" y1="378.61" x2="158.50" y2="378.61" stroke="#1a1a1a" stroke-width="1.3"/>
<line x1="217.40" y1="321.82" x2="217.40" y2="309.97" stroke="#1a1a1a" stroke-width="1.3"/>
<line x1="215.10" y1="309.97" x2="219.70" y2="309.97" stroke="#1a1a1a" stroke-width="1.3"/>
<line x1="268.40" y1="290.51" x2="268.40" y2="277.10" stroke="#1a1a1a" stroke-width="1.3"/>
<line x1="266.10" y1="277.10" x2="270.70" y2="277.10" stroke="#1a1a1a" stroke-width="1.3"/>
<line x1="288.80" y1="293.42" x2="288.80" y2="281.35" stroke="#1a1a1a" stroke-width="1.3"/>
<line x1="286.50" y1="281.35" x2="291.10" y2="281.35" stroke="#1a1a1a" stroke-width="1.3"/>
<rect x="71.80" y="208.00" width="6.2" height="9.4" fill="#1a1a1a"/>
<rect x="81.70" y="412.15" width="6.2" height="9.4" fill="#1a1a1a"/>
<rect x="153.10" y="362.51" width="6.2" height="9.4" fill="#1a1a1a"/>
<rect x="214.30" y="311.97" width="6.2" height="9.4" fill="#1a1a1a"/>
<rect x="265.30" y="294.98" width="6.2" height="9.4" fill="#1a1a1a"/>
<rect x="285.70" y="302.36" width="6.2" height="9.4" fill="#1a1a1a"/>
<path d="M74.90,208.08 L77.70,216.48 L72.10,216.48Z" fill="#1a1a1a"/>
<path d="M84.80,413.12 L87.60,421.52 L82.00,421.52Z" fill="#1a1a1a"/>
<path d="M156.20,388.08 L159.00,396.48 L153.40,396.48Z" fill="#1a1a1a"/>
<path d="M217.40,317.20 L220.20,325.60 L214.60,325.60Z" fill="#1a1a1a"/>
<path d="M268.40,285.89 L271.20,294.29 L265.60,294.29Z" fill="#1a1a1a"/>
<path d="M288.80,288.80 L291.60,297.20 L286.00,297.20Z" fill="#1a1a1a"/>
<path d="M74.90,208.20 L78.00,212.70 L74.90,217.20 L71.80,212.70Z" fill="#1a1a1a"/>
<path d="M84.80,403.63 L87.90,408.13 L84.80,412.63 L81.70,408.13Z" fill="#1a1a1a"/>
<path d="M156.20,291.60 L159.30,296.10 L156.20,300.60 L153.10,296.10Z" fill="#1a1a1a"/>
<path d="M217.40,263.21 L220.50,267.71 L217.40,272.21 L214.30,267.71Z" fill="#1a1a1a"/>
<path d="M268.40,254.26 L271.50,258.76 L268.40,263.26 L265.30,258.76Z" fill="#1a1a1a"/>
<path d="M288.80,242.86 L291.90,247.36 L288.80,251.86 L285.70,247.36Z" fill="#1a1a1a"/>
<text x="147.70" y="370.50" font-size="19" fill="#4a5264" text-anchor="middle">*</text>
<text x="165.00" y="407.30" font-size="19" fill="#4a5264" text-anchor="middle">*</text>
<text x="208.70" y="318.50" font-size="19" fill="#4a5264" text-anchor="middle">*</text>
<text x="220.60" y="341.90" font-size="19" fill="#4a5264" text-anchor="middle">*</text>
<text x="260.00" y="296.60" font-size="19" fill="#4a5264" text-anchor="middle">*</text>
<text x="267.70" y="317.90" font-size="19" fill="#4a5264" text-anchor="middle">*</text>
<text x="295.00" y="296.90" font-size="19" fill="#4a5264" text-anchor="middle">*</text>
<text x="288.30" y="327.30" font-size="19" fill="#4a5264" text-anchor="middle">*</text>
<line x1="81.2" y1="218.3" x2="99.9" y2="218.3" stroke="#1a1a1a" stroke-width="1.6"/>
<path d="M90.90,213.80 L93.80,218.30 L90.90,222.80 L88.00,218.30Z" fill="#1a1a1a"/>
<text x="103.5" y="221.90" font-size="10" font-weight="bold" fill="#262a34">Vehicle</text>
<line x1="81.2" y1="243.5" x2="99.9" y2="243.5" stroke="#1a1a1a" stroke-width="1.6"/>
<rect x="88.40" y="239.10" width="5.0" height="8.8" fill="#1a1a1a"/>
<text x="103.5" y="247.10" font-size="10" font-weight="bold" fill="#262a34">DDMS</text>
<line x1="81.2" y1="266.8" x2="99.9" y2="266.8" stroke="#1a1a1a" stroke-width="1.6"/>
<path d="M90.90,261.96 L93.80,270.76 L88.00,270.76Z" fill="#1a1a1a"/>
<text x="103.5" y="270.40" font-size="10" font-weight="bold" fill="#262a34">6, 15-20-HEDGE</text>
<line x1="377" y1="214.79" x2="377" y2="437" stroke="#3a3a3a" stroke-width="1.5"/>
<line x1="376.5" y1="436.5" x2="626" y2="436.5" stroke="#3a3a3a" stroke-width="1.5"/>
<line x1="374" y1="436.30" x2="377" y2="436.30" stroke="#3a3a3a" stroke-width="1.5"/>
<text x="373.2" y="440.60" font-size="12" fill="#2c303a" stroke="#2c303a" stroke-width="0.25" text-anchor="end">0.0</text>
<line x1="374" y1="399.47" x2="377" y2="399.47" stroke="#3a3a3a" stroke-width="1.5"/>
<text x="373.2" y="403.77" font-size="12" fill="#2c303a" stroke="#2c303a" stroke-width="0.25" text-anchor="end">0.5</text>
<line x1="374" y1="362.63" x2="377" y2="362.63" stroke="#3a3a3a" stroke-width="1.5"/>
<text x="373.2" y="366.93" font-size="12" fill="#2c303a" stroke="#2c303a" stroke-width="0.25" text-anchor="end">1.0</text>
<line x1="374" y1="325.80" x2="377" y2="325.80" stroke="#3a3a3a" stroke-width="1.5"/>
<text x="373.2" y="330.10" font-size="12" fill="#2c303a" stroke="#2c303a" stroke-width="0.25" text-anchor="end">1.5</text>
<line x1="374" y1="288.96" x2="377" y2="288.96" stroke="#3a3a3a" stroke-width="1.5"/>
<text x="373.2" y="293.26" font-size="12" fill="#2c303a" stroke="#2c303a" stroke-width="0.25" text-anchor="end">2.0</text>
<line x1="374" y1="252.12" x2="377" y2="252.12" stroke="#3a3a3a" stroke-width="1.5"/>
<text x="373.2" y="256.43" font-size="12" fill="#2c303a" stroke="#2c303a" stroke-width="0.25" text-anchor="end">2.5</text>
<line x1="374" y1="215.29" x2="377" y2="215.29" stroke="#3a3a3a" stroke-width="1.5"/>
<text x="373.2" y="219.59" font-size="12" fill="#2c303a" stroke="#2c303a" stroke-width="0.25" text-anchor="end">3.0</text>
<line x1="460" y1="436.5" x2="460" y2="440.5" stroke="#3a3a3a" stroke-width="1.5"/>
<line x1="543" y1="436.5" x2="543" y2="440.5" stroke="#3a3a3a" stroke-width="1.5"/>
<line x1="625.3" y1="436.5" x2="625.3" y2="440.5" stroke="#3a3a3a" stroke-width="1.5"/>
<defs><pattern id="dots" x="484.3" y="0" width="2" height="2" patternUnits="userSpaceOnUse"><rect width="2" height="2" fill="#202020"/><rect x="0" y="0" width="1" height="1" fill="#7c7c7c"/><rect x="1" y="1" width="1" height="1" fill="#6a6a6a"/></pattern><pattern id="hatch" x="567.6" y="312.6" width="7.8" height="7.6" patternUnits="userSpaceOnUse"><rect width="7.8" height="7.6" fill="#fff"/><path d="M1.2,6.4 L7.0,0.9 M1.2,14 L7.0,8.5 M1.2,-1.2 L7.0,-6.7" stroke="#111" stroke-width="2.1" stroke-linecap="round"/></pattern></defs>
<line x1="418.00" y1="250.65" x2="418.00" y2="241.44" stroke="#1a1a1a" stroke-width="1.3"/>
<line x1="415.80" y1="241.44" x2="420.20" y2="241.44" stroke="#1a1a1a" stroke-width="1.3"/>
<rect x="401" y="250.65" width="34.00" height="185.65" fill="#050505"/>
<line x1="501.35" y1="294.12" x2="501.35" y2="290.43" stroke="#1a1a1a" stroke-width="1.3"/>
<line x1="499.15" y1="290.43" x2="503.55" y2="290.43" stroke="#1a1a1a" stroke-width="1.3"/>
<rect x="484.3" y="294.12" width="34.10" height="142.18" fill="url(#dots)"/>
<line x1="584.70" y1="316.59" x2="584.70" y2="310.32" stroke="#1a1a1a" stroke-width="1.3"/>
<line x1="582.50" y1="310.32" x2="586.90" y2="310.32" stroke="#1a1a1a" stroke-width="1.3"/>
<rect x="567.6" y="316.59" width="34.20" height="119.71" fill="url(#hatch)"/>
<text x="501.80" y="279.70" font-size="19" fill="#3a3c44" text-anchor="middle">*</text>
<text x="585.50" y="301.20" font-size="19" fill="#3a3c44" text-anchor="middle">*</text>
<text transform="translate(350,330) rotate(-90)" font-size="13.6" font-weight="bold" fill="#2a2d36" text-anchor="middle">Capillary to Fiber Ratio</text>
<text x="417" y="455.8" font-size="12" font-weight="bold" fill="#353a44" text-anchor="middle">Vehicle</text>
<text x="500.5" y="452.7" font-size="12" font-weight="bold" fill="#353a44" text-anchor="middle">6, 15-20-HEDGE</text>
<text x="501.5" y="466.8" font-size="12" font-weight="bold" fill="#353a44" text-anchor="middle">(5 mg/kg/d)</text>
<text x="584.8" y="451.4" font-size="12" font-weight="bold" fill="#353a44" text-anchor="middle">DDMS</text>
<text x="588.5" y="466" font-size="12" font-weight="bold" fill="#353a44" text-anchor="middle">(5 mg/kg/d)</text>
</svg></body></html>
